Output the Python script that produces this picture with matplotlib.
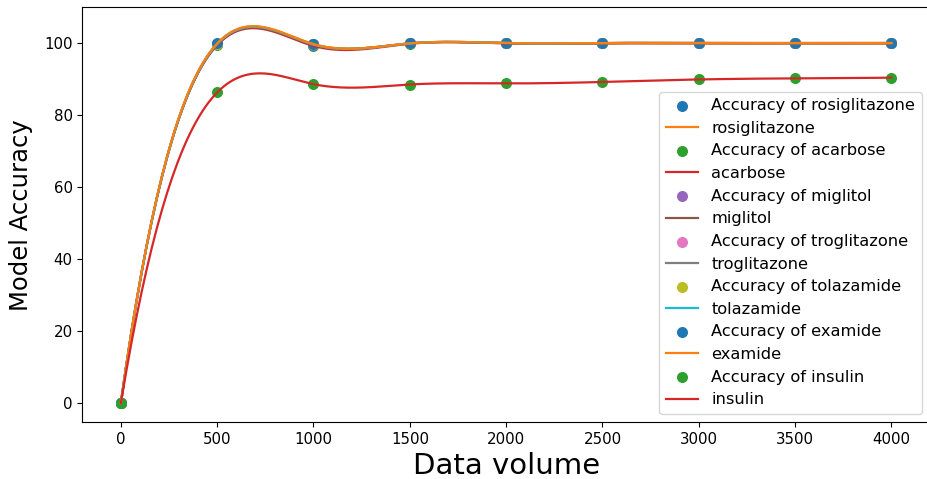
import numpy as np
import matplotlib
matplotlib.use('Agg')
import matplotlib.pyplot as plt

data_volume = [0, 500, 1000, 1500, 2000, 2500, 3000, 3500, 4000]
drugs = ['rosiglitazone', 'acarbose', 'miglitol', 'troglitazone',
         'tolazamide', 'examide', 'insulin']

rosiglitazone = [0, 99.6, 99.6, 99.8, 99.9, 99.9, 99.9, 99.9, 99.9]
acarbose = [0, 99.3, 99.1, 99.7, 99.8, 99.8, 99.8, 99.8, 99.8]
miglitol = [0, 99.5, 99.4, 99.8, 99.8, 99.9, 99.9, 99.9, 99.9]
troglitazone = [0, 99.7, 99.5, 99.8, 99.9, 99.9, 99.9, 99.9, 99.9]
tolazamide = [0, 99.6, 99.5, 99.8, 99.9, 99.9, 99.9, 99.9, 99.9]
examide = [0, 99.8, 99.6, 99.8, 99.9, 99.9, 99.9, 99.9, 99.9]
insulin = [0, 86.2, 88.5, 88.4, 88.7, 89.1, 89.8, 90.1, 90.3]

accuracies = [rosiglitazone, acarbose, miglitol, troglitazone,
              tolazamide, examide, insulin]

colors = plt.rcParams['axes.prop_cycle'].by_key()['color']


def smooth(x, y, num=300):
    # cubic spline, not-a-knot ends (same as make_interp_spline k=3)
    x = np.asarray(x, float)
    y = np.asarray(y, float)
    n = len(x)
    m = n - 1
    h = np.diff(x)
    A = np.zeros((4 * m, 4 * m))
    rhs = np.zeros(4 * m)
    r = 0
    for i in range(m):
        A[r, 4 * i] = 1
        rhs[r] = y[i]
        r += 1
        A[r, 4 * i:4 * i + 4] = 1
        rhs[r] = y[i + 1]
        r += 1
    for i in range(m - 1):
        A[r, 4 * i + 1:4 * i + 4] = np.array([1, 2, 3]) / h[i]
        A[r, 4 * (i + 1) + 1] = -1 / h[i + 1]
        r += 1
        A[r, 4 * i + 2:4 * i + 4] = np.array([2, 6]) / h[i] ** 2
        A[r, 4 * (i + 1) + 2] = -2 / h[i + 1] ** 2
        r += 1
    for i in (0, m - 2):
        A[r, 4 * i + 3] = 6 / h[i] ** 3
        A[r, 4 * (i + 1) + 3] = -6 / h[i + 1] ** 3
        r += 1
    coef = np.linalg.solve(A, rhs).reshape(m, 4)
    xs = np.linspace(x[0], x[-1], num)
    idx = np.clip(np.searchsorted(x, xs, side='right') - 1, 0, m - 1)
    u = (xs - x[idx]) / h[idx]
    c = coef[idx]
    ys = c[:, 0] + c[:, 1] * u + c[:, 2] * u ** 2 + c[:, 3] * u ** 3
    return xs, ys


fig = plt.figure(figsize=(9.27, 4.79), dpi=100)
ax = fig.add_axes([0.0888, 0.119, 1.0032 - 0.0888, 0.9848 - 0.119])

k = 0
for name, acc in zip(drugs, accuracies):
    ax.scatter(data_volume, acc, s=48, color=colors[k % 10],
               label='Accuracy of ' + name)
    xs, ys = smooth(data_volume, acc)
    ax.plot(xs, ys, color=colors[(k + 1) % 10], lw=1.6, label=name)
    k += 2

ax.set_xlabel('Data volume', fontsize=21)
ax.set_ylabel('Model Accuracy', fontsize=17.5, labelpad=8)
ax.tick_params(labelsize=10.8)
ax.legend(loc='lower right', fontsize=11.7, labelspacing=0.47)

fig.savefig('out.png', dpi=100)
